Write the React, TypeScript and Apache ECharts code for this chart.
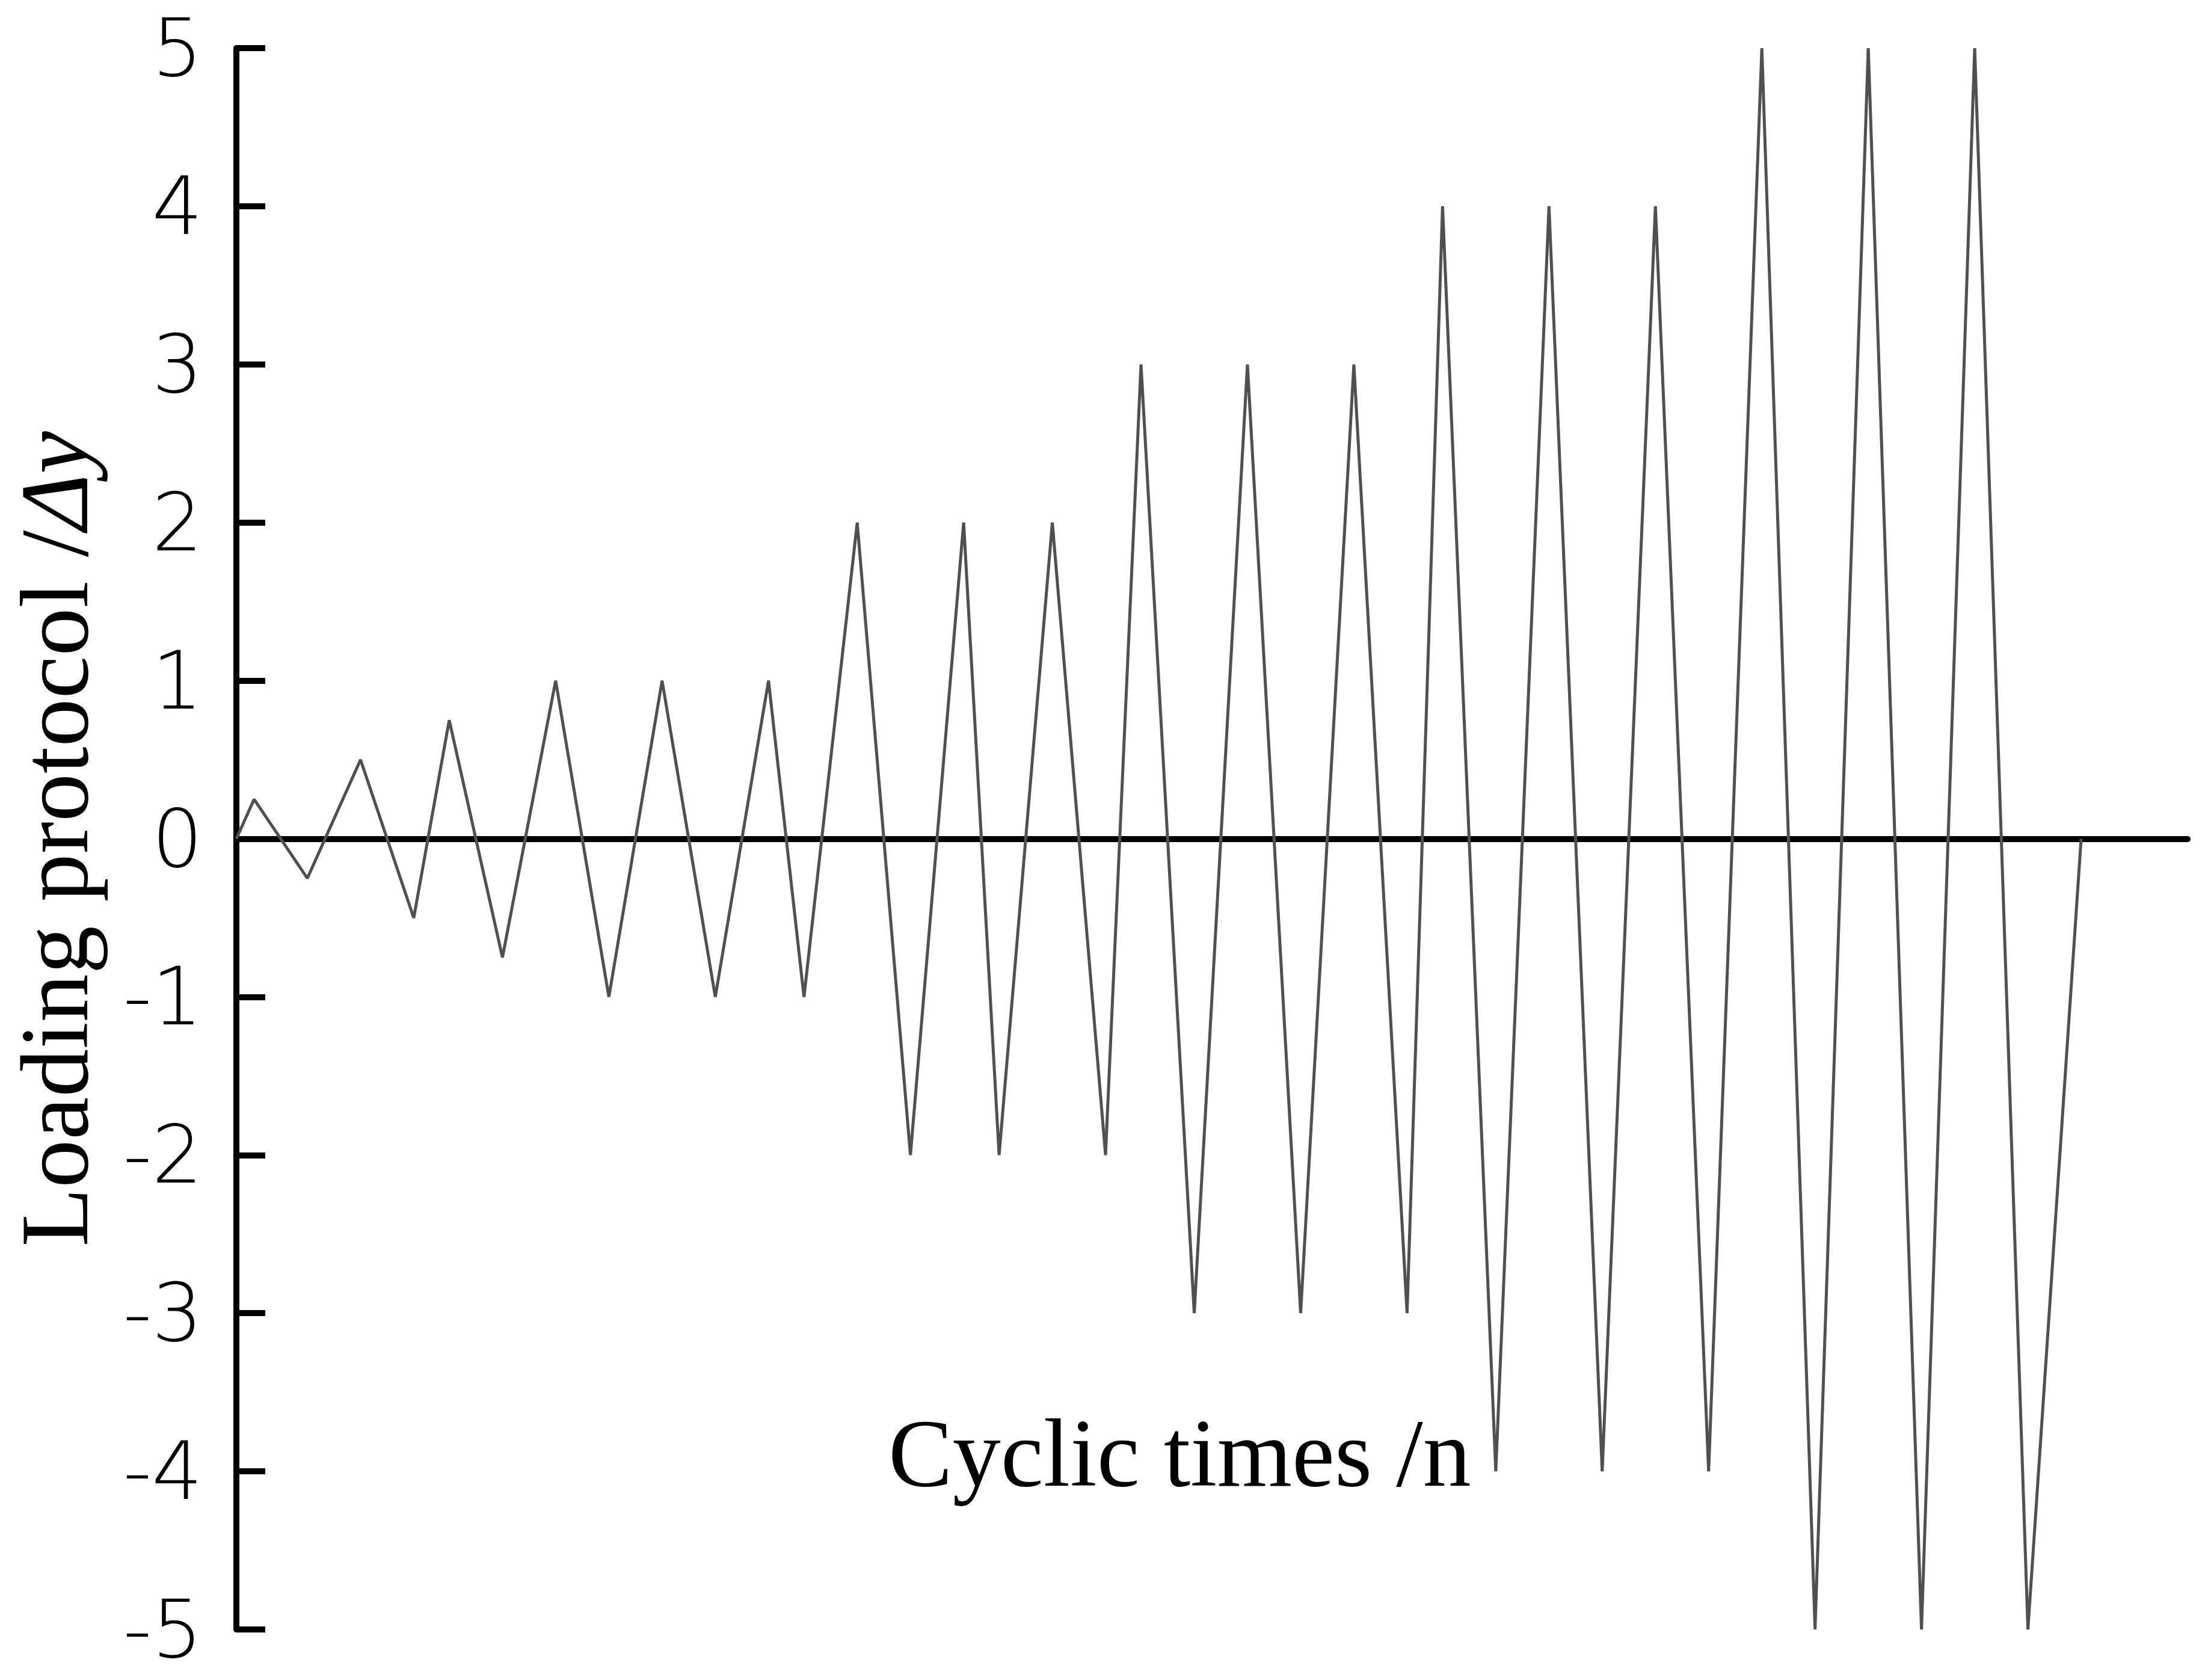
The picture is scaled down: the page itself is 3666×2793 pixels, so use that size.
import React, { useEffect, useRef } from "react";
import * as echarts from "echarts";

// cycle index (x) and loading displacement in units of Δy (y)
const cycleX = [0, 1, 4, 7, 10, 12, 15, 18, 21, 24, 27, 30, 32, 35, 38, 41, 43, 46, 49, 51, 54, 57, 60, 63, 66, 68, 71, 74, 77, 80, 83, 86, 89, 92, 95, 98, 101, 104];
const loadY = [0, 0.25, -0.25, 0.5, -0.5, 0.75, -0.75, 1, -1, 1, -1, 1, -1, 2, -2, 2, -2, 2, -2, 3, -3, 3, -3, 3, -3, 4, -4, 4, -4, 4, -4, 5, -5, 5, -5, 5, -5, 0];
const yTicks = [-5, -4, -3, -2, -1, 0, 1, 2, 3, 4, 5];
const xTitle = "Cyclic times /n";
const yTitlePlain = "Loading protocol /";
const yTitleItalic = "Δy";

export default function App() {
  const ref = useRef<HTMLDivElement>(null);
  useEffect(() => {
    if (!ref.current) return;
    const chart = echarts.init(ref.current, null, { renderer: "svg" });
    const data = cycleX.map((x, i) => [x, loadY[i]]);
    chart.setOption({
      animation: false,
      backgroundColor: "#ffffff",
      title: {
        text: xTitle,
        left: 1477,
        top: 2336,
        padding: 0,
        textStyle: {
          fontFamily: "Liberation Serif",
          fontSize: 160,
          fontWeight: "normal",
          color: "#000",
        },
      },
      grid: {
        left: 393,
        right: 29,
        top: 80,
        bottom: 84,
        containLabel: false,
        outerBoundsMode: "none",
      },
      xAxis: {
        type: "value",
        min: 0,
        max: 110,
        axisLine: { show: true, onZero: true, lineStyle: { color: "#000", width: 10 } },
        axisTick: { show: false },
        axisLabel: { show: false },
        splitLine: { show: false },
      },
      yAxis: {
        type: "value",
        min: yTicks[0],
        max: yTicks[yTicks.length - 1],
        interval: 1,
        name: `{a|${yTitlePlain}}{b|${yTitleItalic}}`,
        nameLocation: "middle",
        nameRotate: 90,
        nameGap: 240,
        nameTextStyle: {
          rich: {
            a: { fontFamily: "Liberation Serif", fontSize: 160, lineHeight: 124, color: "#000" },
            b: { fontFamily: "Liberation Serif", fontSize: 160, lineHeight: 124, fontStyle: "italic", color: "#000" },
          },
        },
        axisLine: { show: true, lineStyle: { color: "#000", width: 10 } },
        axisTick: { show: true, inside: true, length: 48, lineStyle: { color: "#000", width: 10 } },
        axisLabel: {
          show: true,
          margin: 56,
          fontSize: 133,
          fontFamily: "DejaVu Sans",
          fontWeight: 200,
          color: "#000",
        },
        splitLine: { show: false },
      },
      series: [
        {
          type: "line",
          data,
          showSymbol: false,
          symbol: "none",
          lineStyle: { color: "#505050", width: 5 },
          z: 1,
        },
      ],
    });
    return () => chart.dispose();
  }, []);
  return (
    <div
      ref={ref}
      style={{ position: "fixed", left: 0, top: 0, width: 3666, height: 2793 }}
    />
  );
}
